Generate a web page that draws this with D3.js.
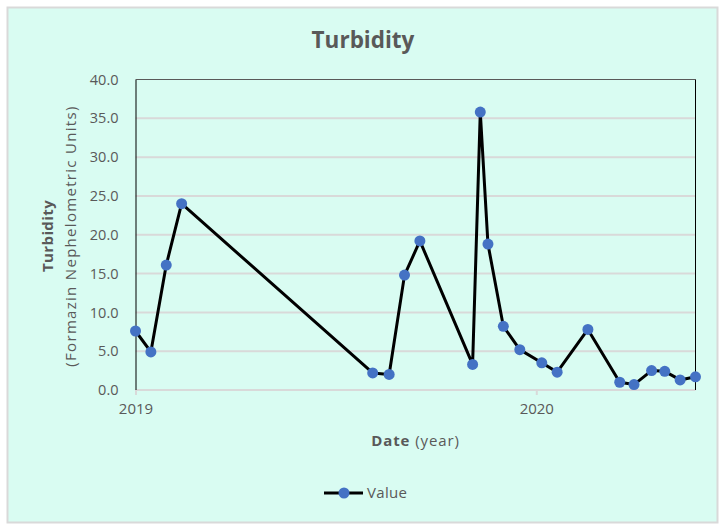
<!DOCTYPE html>
<html><head><meta charset="utf-8">
<script src="https://cdnjs.cloudflare.com/ajax/libs/d3/7.8.5/d3.min.js"></script>
<style>
html,body{margin:0;padding:0;background:#fff;}
svg{display:block;}
text{font-family:"Open Sans","DejaVu Sans",sans-serif;fill:#595959;}
</style></head><body>
<svg id="chart" width="725" height="530"></svg>
<script>
// ---- data ----
const dates = ["2019-01-01","2019-01-15","2019-01-29","2019-02-12","2019-08-05","2019-08-20",
  "2019-09-03","2019-09-17","2019-11-04","2019-11-11","2019-11-18","2019-12-02","2019-12-17",
  "2020-01-06","2020-01-20","2020-02-17","2020-03-17","2020-03-30","2020-04-15","2020-04-27",
  "2020-05-11","2020-05-25"];
const values = [7.6,4.9,16.1,24.0,2.2,2.0,14.8,19.2,3.3,35.8,18.8,8.2,5.2,3.5,2.3,7.8,1.0,0.7,2.5,2.4,1.3,1.7];
const yTicks = [0,5,10,15,20,25,30,35,40];
const xTickLabels = ["2019","2020"];
const seriesName = "Value";

const parse = d3.timeParse("%Y-%m-%d");
const data = dates.map((d,i)=>({date:parse(d), value:values[i]}));

const svg = d3.select("#chart");
const m={left:135.5,right:695.5,top:79.5,bottom:390};

// background frame
svg.append("rect").attr("x",7.5).attr("y",7.5).attr("width",710).attr("height",515)
  .attr("fill","#D9FCF2").attr("stroke","#D9D9D9").attr("stroke-width",2);

const x = d3.scaleTime().domain([parse("2019-01-01"), data[data.length-1].date]).range([m.left,m.right]);
const y = d3.scaleLinear().domain([0,40]).range([m.bottom,m.top]);

// gridlines
svg.append("g").selectAll("line").data(yTicks.filter(t=>t<40)).join("line")
  .attr("x1",m.left).attr("x2",m.right).attr("y1",d=>y(d)).attr("y2",d=>y(d))
  .attr("stroke","#D9D9D9").attr("stroke-width",2);

// plot border top/right
svg.append("line").attr("x1",m.left).attr("x2",m.right).attr("y1",m.top).attr("y2",m.top)
  .attr("stroke","#595959").attr("stroke-width",1);
svg.append("line").attr("x1",m.right).attr("x2",m.right).attr("y1",m.top).attr("y2",m.bottom)
  .attr("stroke","#000").attr("stroke-width",1);

// y axis
const yAxis = d3.axisLeft(y).tickValues(yTicks).tickFormat(d3.format(".1f")).tickSize(0).tickPadding(17);
const gy = svg.append("g").attr("transform",`translate(${m.left},0)`).call(yAxis);
gy.select(".domain").attr("stroke","#000").attr("stroke-width",1);
gy.selectAll("text").style("font-size","14.5px").attr("fill","#595959");

// x axis
const yearDates = xTickLabels.map(s=>parse(s+"-01-01"));
const xAxis = d3.axisBottom(x).tickValues(yearDates).tickFormat(d3.timeFormat("%Y")).tickSize(5).tickPadding(8);
const gx = svg.append("g").attr("transform",`translate(0,${m.bottom})`).call(xAxis);
gx.select(".domain").remove();
gx.selectAll(".tick line").attr("stroke","#D9D9D9").attr("stroke-width",2);
gx.selectAll("text").style("font-size","15px").attr("fill","#595959");

// line
const line = d3.line().x(d=>x(d.date)).y(d=>y(d.value));
svg.append("path").datum(data).attr("d",line).attr("fill","none")
  .attr("stroke","#000").attr("stroke-width",3).attr("stroke-linejoin","round");
svg.append("g").selectAll("circle").data(data).join("circle")
  .attr("cx",d=>x(d.date)).attr("cy",d=>y(d.value)).attr("r",5.5).attr("fill","#4472C4");

// title
svg.append("text").attr("x",363).attr("y",48).attr("text-anchor","middle")
  .style("font-size","22.5px").style("font-weight","bold").text("Turbidity");

// y title
const yt = svg.append("text").attr("transform","translate(0,236) rotate(-90)").attr("text-anchor","middle").style("font-size","15px");
yt.append("tspan").attr("x",0).attr("y",53).style("font-weight","bold").style("letter-spacing","0.4px").text("Turbidity");
yt.append("tspan").attr("x",0).attr("y",76).style("letter-spacing","1.3px").text("(Formazin Nephelometric Units)");

// x title
const xt = svg.append("text").attr("x",(m.left+m.right)/2).attr("y",446).attr("text-anchor","middle")
  .style("font-size","15px").style("letter-spacing","0.9px");
xt.append("tspan").style("font-weight","bold").text("Date");
xt.append("tspan").text(" (year)");

// legend
const lg = svg.append("g");
lg.append("line").attr("x1",324).attr("x2",363).attr("y1",493).attr("y2",493).attr("stroke","#000").attr("stroke-width",3);
lg.append("circle").attr("cx",344).attr("cy",493).attr("r",5.5).attr("fill","#4472C4");
lg.append("text").attr("x",367).attr("y",498).style("font-size","15px").style("letter-spacing","0.3px").text(seriesName);
</script>
</body></html>
